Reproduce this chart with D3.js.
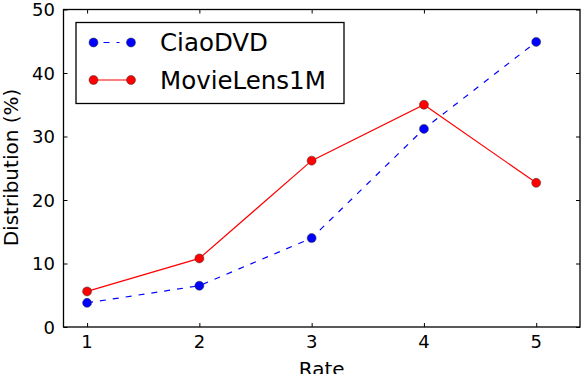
<!DOCTYPE html>
<html>
<head>
<meta charset="utf-8">
<script src="https://cdn.jsdelivr.net/npm/d3@7"></script>
<style>
  body { margin: 0; background: #fff; }
  text { font-family: "DejaVu Sans", sans-serif; fill: #000; }
</style>
</head>
<body>
<div id="chart"></div>
<script>
let width = 582
let height = 374

// data
let rates = [1, 2, 3, 4, 5]
let ciaoDVD = [3.8, 6.5, 14.0, 31.2, 44.9]
let movieLens = [5.6, 10.8, 26.2, 35.0, 22.7]
let xTicks = [1, 2, 3, 4, 5]
let yTicks = [0, 10, 20, 30, 40, 50]
let seriesNames = ["CiaoDVD", "MovieLens1M"]

let plotLeft = 63.5, plotRight = 580, plotTop = 9.5, plotBottom = 327

let svg = d3.select("#chart")
            .append("svg")
            .attr("width", width)
            .attr("height", height)

let xScale = d3.scaleLinear()
    .domain([0.79, 5.39])
    .range([plotLeft, plotRight])

let yScale = d3.scaleLinear()
    .domain([0, 50])
    .range([plotBottom, plotTop])

// ticks pointing inward, on all four sides
let tickLen = 4
let xAxisB = d3.axisTop(xScale).tickValues(xTicks).tickSize(tickLen).tickFormat("")
let xAxisT = d3.axisBottom(xScale).tickValues(xTicks).tickSize(tickLen).tickFormat("")
let yAxisL = d3.axisRight(yScale).tickValues(yTicks).tickSize(tickLen).tickFormat("")
let yAxisR = d3.axisLeft(yScale).tickValues(yTicks).tickSize(tickLen).tickFormat("")

svg.append("g").attr("transform", "translate(0," + plotBottom + ")").call(xAxisB)
svg.append("g").attr("transform", "translate(0," + plotTop + ")").call(xAxisT)
svg.append("g").attr("transform", "translate(" + plotLeft + ",0)").call(yAxisL)
svg.append("g").attr("transform", "translate(" + plotRight + ",0)").call(yAxisR)
svg.selectAll(".domain").remove()
svg.selectAll(".tick line").attr("stroke", "#000").attr("stroke-width", 1)

// tick labels
svg.selectAll(".xlab")
    .data(xTicks)
    .enter()
    .append("text")
    .attr("x", d => xScale(d))
    .attr("y", 348)
    .attr("text-anchor", "middle")
    .attr("font-size", 18)
    .text(d => d)

svg.selectAll(".ylab")
    .data(yTicks)
    .enter()
    .append("text")
    .attr("x", 55)
    .attr("y", d => yScale(d) + 6.5)
    .attr("text-anchor", "end")
    .attr("font-size", 18)
    .text(d => d)

// axis titles (the x title is clipped by the bottom edge, as in the original)
svg.append("text")
    .attr("x", (plotLeft + plotRight) / 2)
    .attr("y", 376)
    .attr("text-anchor", "middle")
    .attr("font-size", 20)
    .text("Rate")

svg.append("text")
    .attr("transform", "translate(17.5,167.5) rotate(-90)")
    .attr("text-anchor", "middle")
    .attr("font-size", 20)
    .text("Distribution (%)")

// lines
let line = d3.line()
    .x((d, i) => xScale(rates[i]))
    .y(d => yScale(d))

svg.append("path")
    .datum(ciaoDVD)
    .attr("d", line)
    .attr("fill", "none")
    .attr("stroke", "#0000ff")
    .attr("stroke-width", 1.2)
    .attr("stroke-dasharray", "6,7")

svg.append("path")
    .datum(movieLens)
    .attr("d", line)
    .attr("fill", "none")
    .attr("stroke", "#ff0000")
    .attr("stroke-width", 1.2)

svg.selectAll(".ciao")
    .data(ciaoDVD)
    .enter()
    .append("circle")
    .attr("cx", (d, i) => xScale(rates[i]))
    .attr("cy", d => yScale(d))
    .attr("r", 4.5)
    .attr("fill", "#0000ff")
    .attr("stroke", "#333")
    .attr("stroke-width", 0.5)

svg.selectAll(".ml")
    .data(movieLens)
    .enter()
    .append("circle")
    .attr("cx", (d, i) => xScale(rates[i]))
    .attr("cy", d => yScale(d))
    .attr("r", 4.5)
    .attr("fill", "#ff0000")
    .attr("stroke", "#333")
    .attr("stroke-width", 0.5)

// frame
svg.append("rect")
    .attr("x", plotLeft)
    .attr("y", plotTop)
    .attr("width", plotRight - plotLeft)
    .attr("height", plotBottom - plotTop)
    .attr("fill", "none")
    .attr("stroke", "#000")
    .attr("stroke-width", 1.3)

// legend
let legend = svg.append("g")
legend.append("rect")
    .attr("x", 76)
    .attr("y", 22.5)
    .attr("width", 268)
    .attr("height", 81)
    .attr("fill", "#fff")
    .attr("stroke", "#000")
    .attr("stroke-width", 1.3)

let legColors = ["#0000ff", "#ff0000"]
let legDash = ["3,7,6,7", null]
let legY = [42.5, 80]
seriesNames.forEach(function(name, i) {
    legend.append("line")
        .attr("x1", 93.5).attr("x2", 131)
        .attr("y1", legY[i]).attr("y2", legY[i])
        .attr("stroke", legColors[i])
        .attr("stroke-width", 1.2)
        .attr("stroke-dasharray", legDash[i])
    ;[93.5, 131].forEach(function(cx) {
        legend.append("circle")
            .attr("cx", cx).attr("cy", legY[i]).attr("r", 4.5)
            .attr("fill", legColors[i])
            .attr("stroke", "#333")
            .attr("stroke-width", 0.5)
    })
    legend.append("text")
        .attr("x", 160)
        .attr("y", legY[i] + 8.5)
        .attr("font-size", 24.5)
        .text(name)
})
</script>
</body>
</html>
